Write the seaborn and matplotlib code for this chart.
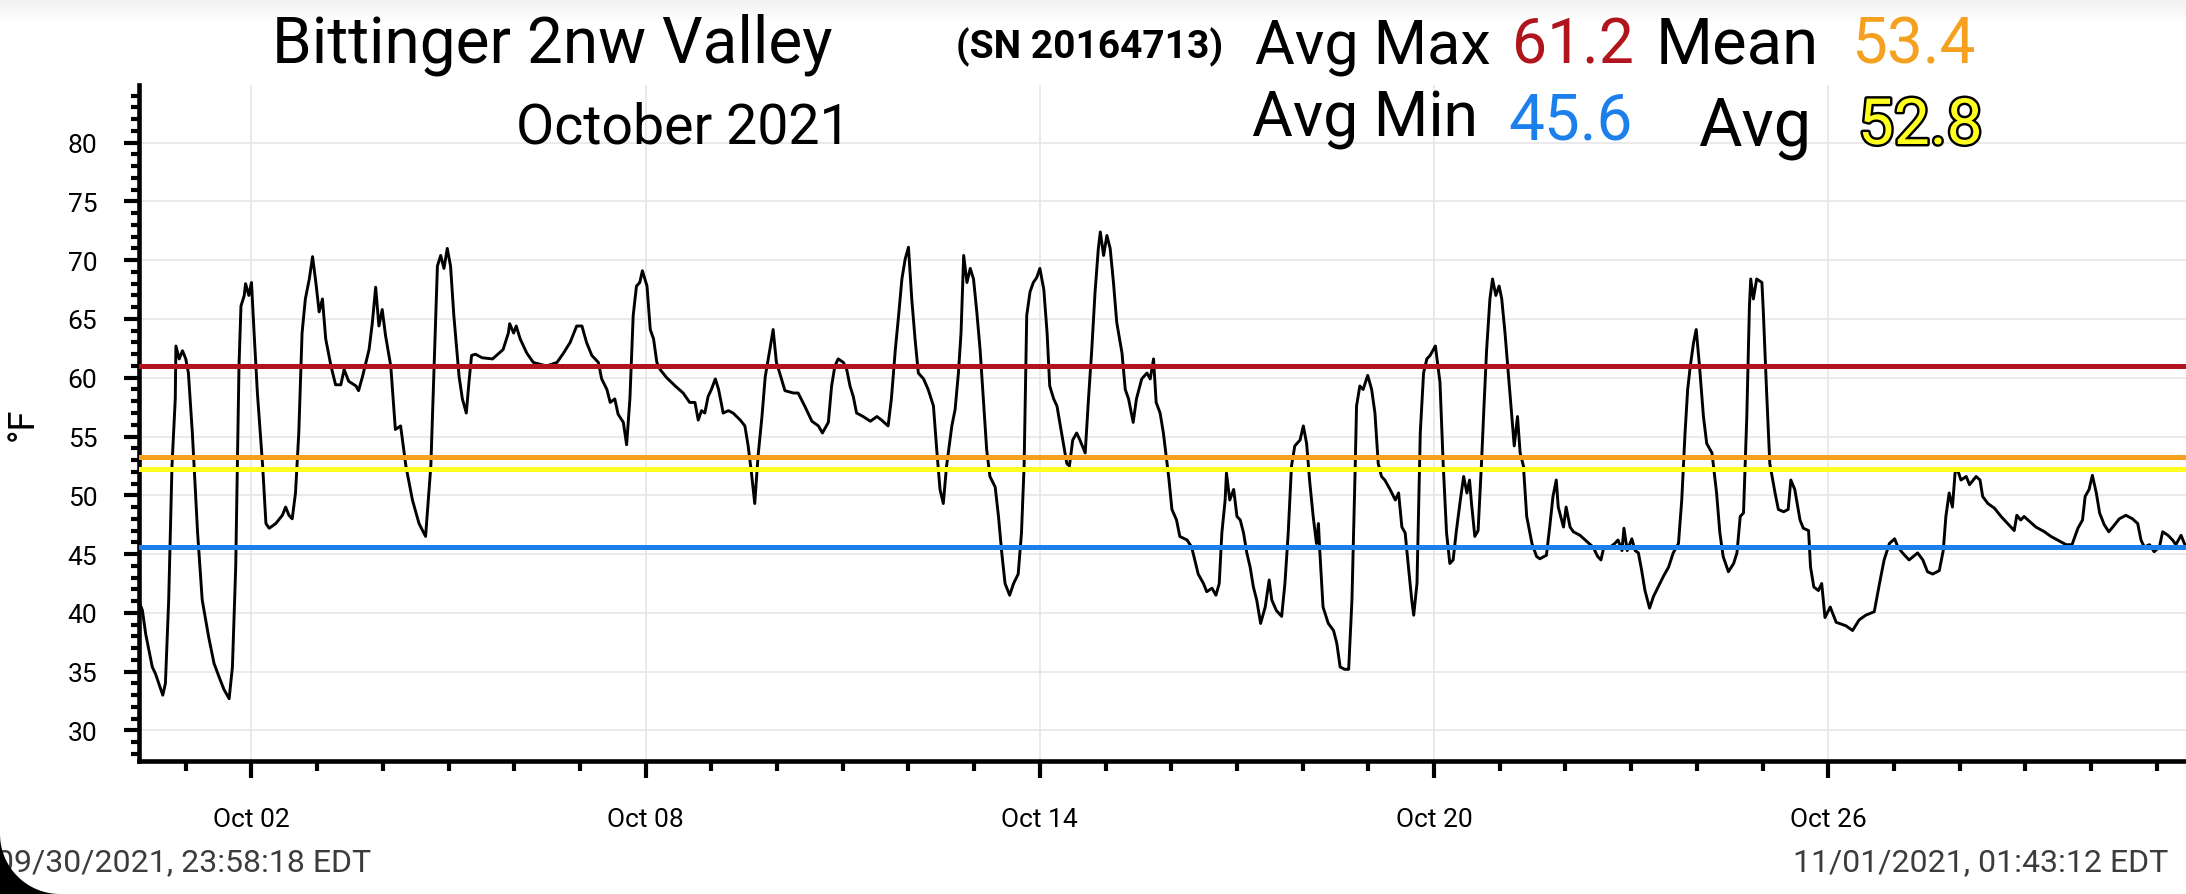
import numpy as np
import pandas as pd
import matplotlib
matplotlib.use('Agg')
import matplotlib.pyplot as plt
import matplotlib.dates as mdates
import matplotlib.patheffects as pe
from matplotlib.patches import Polygon
from matplotlib.transforms import IdentityTransform
from matplotlib.ticker import MultipleLocator
import seaborn as sns

# Labels
station = 'Bittinger 2nw Valley'
serial = '(SN 20164713)'
month_label = 'October 2021'
start_label = '09/30/2021, 23:58:18 EDT'
end_label = '11/01/2021, 01:43:12 EDT'

# Summary stats (text) and where their reference lines sit on the chart
stat_names = ['Avg Max', 'Mean', 'Avg Min', 'Avg']
stat_values = ['61.2', '53.4', '45.6', '52.8']
stat_colors = ['#b0141c', '#f5a01e', '#1b80ec', '#ffff1e']
line_levels = [61.0, 53.3, 45.6, 52.2]

# Temperature trace: days after Oct 01 00:00, deg F
day_offset = [
    -0.70, -0.66, -0.61, -0.51, -0.46, -0.35, -0.31, -0.26, -0.21, -0.16,
    -0.15, -0.10, -0.05, 0.00, 0.04, 0.10, 0.18, 0.25, 0.35, 0.43,
    0.51, 0.58, 0.66, 0.71, 0.76, 0.81, 0.84, 0.89, 0.91, 0.96,
    1.00, 1.04, 1.09, 1.17, 1.22, 1.27, 1.37, 1.47, 1.52, 1.57,
    1.62, 1.67, 1.72, 1.77, 1.82, 1.88, 1.93, 1.98, 2.03, 2.08,
    2.13, 2.21, 2.28, 2.36, 2.41, 2.48, 2.59, 2.63, 2.69, 2.79,
    2.84, 2.89, 2.94, 2.99, 3.04, 3.12, 3.19, 3.27, 3.35, 3.45,
    3.55, 3.65, 3.73, 3.78, 3.83, 3.88, 3.93, 3.98, 4.03, 4.08,
    4.16, 4.21, 4.27, 4.31, 4.35, 4.41, 4.51, 4.67, 4.77,
    4.83, 4.91, 4.93, 4.99, 5.03, 5.09, 5.19, 5.29, 5.49, 5.65,
    5.75, 5.85, 5.95, 6.03, 6.10, 6.18, 6.28, 6.33, 6.41, 6.46,
    6.53, 6.58, 6.66, 6.71, 6.76, 6.81, 6.86, 6.91, 6.95, 7.02,
    7.07, 7.12, 7.17, 7.22, 7.32, 7.45, 7.57, 7.67, 7.75, 7.80,
    7.85, 7.90, 7.95, 8.00, 8.06, 8.11, 8.18, 8.26, 8.33, 8.44,
    8.51, 8.56, 8.61, 8.66, 8.71, 8.77, 8.82, 8.89, 8.94, 8.99,
    9.04, 9.12, 9.25, 9.32, 9.42, 9.53, 9.63, 9.69, 9.78, 9.83,
    9.88, 9.93, 10.01, 10.06,
    10.11, 10.16, 10.21, 10.31, 10.42, 10.52, 10.59, 10.69, 10.74, 10.80,
    10.85, 10.90, 10.95, 11.00, 11.05, 11.10, 11.15, 11.23, 11.30, 11.38,
    11.43, 11.48, 11.53, 11.58, 11.66, 11.71, 11.76, 11.80, 11.84, 11.89,
    11.94, 11.99, 12.04, 12.09, 12.14, 12.19, 12.24, 12.32, 12.37, 12.42,
    12.47, 12.54, 12.60, 12.67, 12.72, 12.76, 12.80, 12.85, 12.90, 12.95,
    13.00, 13.06, 13.11, 13.15, 13.21, 13.26, 13.33, 13.41, 13.45, 13.50,
    13.56, 13.61, 13.69, 13.74, 13.79, 13.84, 13.89, 13.92, 13.97, 14.02,
    14.07, 14.12, 14.17, 14.25, 14.30, 14.35, 14.42, 14.47, 14.55, 14.63,
    14.68, 14.73, 14.77, 14.83, 14.88, 14.96, 15.01, 15.08, 15.13, 15.24,
    15.31, 15.41,
    15.49, 15.54, 15.62, 15.68, 15.73, 15.77, 15.82, 15.84, 15.89, 15.95,
    16.00, 16.05, 16.10, 16.15, 16.20, 16.25, 16.30, 16.36, 16.43, 16.49,
    16.53, 16.60, 16.68, 16.73, 16.78, 16.83, 16.88, 16.96, 17.01, 17.06,
    17.11, 17.16, 17.21, 17.24, 17.26, 17.31, 17.39, 17.47, 17.52, 17.57,
    17.64, 17.70, 17.75, 17.80, 17.82, 17.87, 17.92, 17.99, 18.05, 18.10,
    18.15, 18.20, 18.25, 18.33, 18.41, 18.46, 18.51, 18.56, 18.61, 18.66,
    18.69, 18.74, 18.79, 18.84, 18.89, 18.94, 19.02, 19.09, 19.14, 19.19,
    19.24, 19.29, 19.34, 19.40, 19.45, 19.50, 19.54, 19.57, 19.62, 19.67,
    19.72, 19.76, 19.80, 19.85, 19.89, 19.94, 19.99, 20.03, 20.08, 20.13,
    20.18, 20.22, 20.27, 20.31, 20.36, 20.41, 20.49, 20.56,
    20.61, 20.71, 20.76, 20.81, 20.86, 20.89, 20.97, 21.01, 21.07, 21.12,
    21.22, 21.32, 21.42, 21.49, 21.54, 21.58, 21.68, 21.75, 21.80, 21.86,
    21.89, 21.94, 22.01, 22.06, 22.11, 22.16, 22.21, 22.28, 22.34, 22.41,
    22.49, 22.57, 22.64, 22.72, 22.77, 22.82, 22.86, 22.90, 22.95, 22.99,
    23.04, 23.10, 23.15, 23.23, 23.30, 23.35, 23.40, 23.48, 23.56, 23.61,
    23.66, 23.71, 23.76, 23.80, 23.82, 23.86, 23.91, 23.99, 24.01, 24.06,
    24.11, 24.19, 24.24, 24.32, 24.39, 24.43, 24.49, 24.57, 24.62, 24.70,
    24.73, 24.78, 24.85, 24.90, 24.95,
    25.03, 25.12, 25.27, 25.37, 25.47, 25.57, 25.70, 25.78, 25.85, 25.93,
    26.01, 26.06, 26.13, 26.23, 26.36, 26.44, 26.51, 26.59, 26.69, 26.75,
    26.79, 26.84, 26.89, 26.93, 26.96, 27.02, 27.10, 27.15, 27.25, 27.31,
    27.35, 27.43, 27.53, 27.63, 27.73, 27.83, 27.87, 27.93, 27.98, 28.06,
    28.16, 28.29, 28.39, 28.52, 28.62, 28.71, 28.80, 28.87, 28.91, 28.97,
    29.02, 29.08, 29.13, 29.20, 29.27, 29.33, 29.43, 29.53, 29.63, 29.71,
    29.76, 29.81, 29.89, 29.96, 30.04, 30.09, 30.17, 30.24, 30.29, 30.37,
    30.42, 30.45,
]
temp_f = [
    40.8, 40.2, 38.2, 35.4, 34.8, 33.0, 34.0, 41.1, 52.5, 58.2,
    62.7, 61.6, 62.3, 61.6, 60.4, 55.3, 46.8, 41.1, 37.9, 35.7,
    34.5, 33.5, 32.7, 35.4, 43.9, 61.0, 66.1, 67.0, 68.0, 67.0,
    68.1, 63.8, 58.7, 52.5, 47.6, 47.2, 47.6, 48.3, 49.0, 48.3,
    48.0, 50.2, 55.3, 63.8, 66.7, 68.4, 70.3, 68.1, 65.6, 66.7,
    63.3, 61.0, 59.4, 59.4, 60.7, 59.7, 59.3, 58.9, 60.1, 62.4,
    64.7, 67.7, 64.4, 65.8, 63.6, 61.0, 55.6, 55.9, 52.5, 49.6,
    47.6, 46.5, 52.5, 61.0, 69.5, 70.4, 69.3, 71.0, 69.5, 65.3,
    60.1, 58.2, 57.0, 59.6, 61.9, 62.0, 61.7, 61.6, 62.1,
    62.4, 63.8, 64.6, 63.8, 64.4, 63.3, 62.1, 61.3, 61.0, 61.3,
    62.1, 63.0, 64.4, 64.4, 63.0, 61.9, 61.3, 59.9, 59.0, 57.9,
    58.2, 56.9, 56.2, 54.3, 58.2, 65.3, 67.8, 68.1, 69.1, 67.8,
    64.1, 63.3, 61.3, 60.7, 60.0, 59.3, 58.7, 57.9, 57.9, 56.4,
    57.2, 57.0, 58.4, 59.0, 59.9, 59.0, 57.0, 57.2, 57.0, 56.4,
    55.9, 54.2, 51.9, 49.3, 53.3, 56.7, 60.1, 62.4, 64.1, 61.3,
    60.4, 58.9, 58.7, 58.7, 57.6, 56.3, 55.9, 55.3, 56.2, 59.3,
    61.0, 61.6, 61.3, 60.7,
    59.3, 58.4, 57.0, 56.7, 56.3, 56.7, 56.4, 55.9, 58.2, 62.4,
    65.3, 68.4, 70.1, 71.1, 66.7, 63.3, 60.4, 59.9, 59.0, 57.6,
    53.9, 50.5, 49.3, 52.5, 55.9, 57.3, 60.4, 63.8, 70.4, 68.1,
    69.3, 68.4, 65.6, 62.4, 58.2, 53.9, 51.6, 50.7, 48.2, 45.1,
    42.5, 41.5, 42.5, 43.3, 46.8, 52.5, 65.3, 67.3, 68.1, 68.5,
    69.3, 67.5, 63.8, 59.3, 58.2, 57.6, 55.3, 52.7, 52.5, 54.7,
    55.3, 54.7, 53.6, 58.2, 62.4, 67.3, 71.0, 72.4, 70.4, 72.1,
    71.0, 68.1, 64.7, 62.1, 59.0, 58.2, 56.2, 58.2, 59.9, 60.4,
    59.9, 61.6, 57.9, 57.0, 55.3, 51.6, 48.8, 47.9, 46.5, 46.2,
    45.6, 43.3,
    42.5, 41.8, 42.1, 41.5, 42.5, 46.8, 49.6, 51.9, 49.6, 50.5,
    48.2, 47.9, 46.8, 45.1, 43.9, 42.2, 41.1, 39.1, 40.5, 42.8,
    41.1, 40.2, 39.7, 42.5, 46.8, 52.5, 54.2, 54.7, 55.9, 54.4,
    51.0, 48.2, 45.9, 47.6, 45.3, 40.5, 39.1, 38.5, 37.4, 35.4,
    35.2, 35.2, 41.1, 52.5, 57.6, 59.3, 59.0, 60.2, 59.0, 57.0,
    52.7, 51.6, 51.3, 50.5, 49.6, 50.2, 47.3, 46.8, 43.9, 41.1,
    39.8, 42.5, 55.3, 60.4, 61.6, 61.9, 62.7, 59.6, 52.5, 46.8,
    44.2, 44.5, 47.0, 49.6, 51.6, 50.2, 51.3, 49.3, 46.5, 47.0,
    52.5, 57.6, 62.4, 66.7, 68.4, 67.0, 67.8, 66.7, 63.8, 60.4,
    57.0, 54.2, 56.7, 53.6, 52.5, 48.2, 45.9, 44.8,
    44.6, 44.9, 47.3, 49.9, 51.3, 49.0, 47.3, 49.0, 47.3, 46.9,
    46.6, 46.1, 45.6, 44.8, 44.5, 45.5, 45.6, 45.9, 46.2, 45.3,
    47.2, 45.3, 46.3, 45.3, 45.1, 43.6, 41.9, 40.4, 41.4, 42.2,
    43.1, 43.9, 45.1, 45.9, 49.6, 55.3, 59.0, 61.0, 63.0, 64.1,
    61.0, 56.7, 54.4, 53.6, 50.2, 46.8, 44.8, 43.5, 44.2, 45.1,
    48.2, 48.5, 56.7, 66.1, 68.4, 66.7, 68.4, 68.1, 65.8, 59.0,
    52.7, 50.2, 48.8, 48.6, 48.8, 51.3, 50.5, 47.9, 47.2, 47.0,
    43.9, 42.2, 41.9, 42.5, 39.6,
    40.5, 39.2, 38.9, 38.5, 39.4, 39.8, 40.1, 42.5, 44.5, 45.9,
    46.3, 45.6, 45.1, 44.5, 45.1, 44.5, 43.5, 43.3, 43.6, 45.3,
    48.2, 50.2, 49.0, 51.9, 52.3, 51.3, 51.6, 50.9, 51.6, 51.3,
    49.9, 49.3, 48.9, 48.2, 47.6, 47.0, 48.3, 47.9, 48.2, 47.8,
    47.3, 46.9, 46.5, 46.1, 45.8, 45.8, 47.2, 47.9, 49.9, 50.5,
    51.7, 50.2, 48.5, 47.5, 46.9, 47.3, 48.0, 48.3, 48.0, 47.6,
    46.2, 45.6, 45.8, 45.2, 45.6, 46.9, 46.6, 46.2, 45.8, 46.6,
    45.9, 45.6,
]

t0 = pd.Timestamp('2021-10-01')
df = pd.DataFrame({
    'time': t0 + pd.to_timedelta(day_offset, unit='D'),
    'temp': temp_f,
})

sns.set_theme(style='white', rc={'text.color': 'black', 'axes.labelcolor': 'black',
                                 'xtick.color': 'black', 'ytick.color': 'black'})
plt.rcParams['font.family'] = ['Roboto', 'DejaVu Sans']

W, H = 2186, 895
fig = plt.figure(figsize=(W / 100, H / 100), dpi=100)
ax = fig.add_axes([139 / W, 1 - 762 / H, 1 - 139 / W, (762 - 86) / H])

sns.lineplot(data=df, x='time', y='temp', color='black', linewidth=2.1, ax=ax, zorder=2)
for level, c in zip(line_levels, stat_colors):
    ax.axhline(level, color=c, linewidth=3.6, zorder=3)

ax.set_xlim(t0 + pd.Timedelta(days=-0.712), t0 + pd.Timedelta(days=30.445))
ax.set_ylim(27.4, 84.9)
ax.xaxis.set_major_locator(mdates.DayLocator(bymonthday=[2, 8, 14, 20, 26]))
ax.xaxis.set_minor_locator(mdates.DayLocator())
ax.xaxis.set_major_formatter(mdates.DateFormatter('%b %d'))
ax.yaxis.set_major_locator(MultipleLocator(5))
ax.yaxis.set_minor_locator(MultipleLocator(1))

ax.grid(True, which='major', color='#e6e6e6', linewidth=1.2)
ax.set_axisbelow(True)
for side in ['top', 'right']:
    ax.spines[side].set_visible(False)
for side in ['left', 'bottom']:
    ax.spines[side].set_linewidth(3.3)
    ax.spines[side].set_color('black')

ax.tick_params(axis='y', which='major', direction='out', length=11, width=3,
               pad=19, labelsize=19, color='black', labelcolor='black', left=True)
ax.tick_params(axis='y', which='minor', direction='out', length=6, width=3,
               color='black', left=True)
ax.tick_params(axis='x', which='major', direction='out', length=12, width=3,
               pad=21, labelsize=19, color='black', labelcolor='black', bottom=True)
ax.tick_params(axis='x', which='minor', direction='out', length=7, width=3,
               color='black', bottom=True)

ax.set_xlabel('')
ax.set_ylabel('°F', fontsize=26, color='black')
ax.yaxis.set_label_coords(-0.048, 0.5)


def px_text(x, y, s, **kw):
    kw.setdefault('color', 'black')
    return fig.text(x / W, 1 - y / H, s, va='baseline', **kw)


# header
px_text(552, 63, station, ha='center', fontsize=46)
px_text(683, 143, month_label, ha='center', fontsize=40)
px_text(1090, 58, serial, ha='center', fontsize=28, fontweight='bold')

name_pos = [(1255, 63, 44), (1656, 63, 47), (1252, 137, 45), (1698, 145, 48)]
value_pos = [(1512, 63, 45), (1851, 63, 46), (1508, 139, 46), (1858, 145, 46)]
for name, val, c, npos, vpos in zip(stat_names, stat_values, stat_colors, name_pos, value_pos):
    px_text(npos[0], npos[1], name, ha='left', fontsize=npos[2])
    t = px_text(vpos[0], vpos[1], val, ha='left', fontsize=vpos[2], color=c)
    if name == 'Avg':
        t.set_path_effects([pe.Stroke(linewidth=3.5, foreground='black'), pe.Normal()])

# footer time stamps
px_text(-4, 871, start_label, ha='left', fontsize=23, color='#3c3c3c')
px_text(2168, 871, end_label, ha='right', fontsize=23, color='#3c3c3c')

# top shadow of the screenshot
ax_sh = fig.add_axes([0, 1 - 22 / H, 1, 22 / H])
ax_sh.imshow(np.linspace(0.12, 0.0, 40)[:, None], cmap='Greys', vmin=0, vmax=1,
             aspect='auto')
ax_sh.axis('off')

# rounded screen corner, bottom left
R = 60
theta = np.linspace(np.pi * 1.5, np.pi, 30)
arc = np.column_stack([R + R * np.cos(theta), R + R * np.sin(theta)])
corner = np.vstack([[0, 0], arc, [0, 0]])
fig.patches.append(Polygon(corner, closed=True, facecolor='black', edgecolor='none',
                           transform=IdentityTransform(), zorder=10))

fig.savefig('out.png', dpi=100)
